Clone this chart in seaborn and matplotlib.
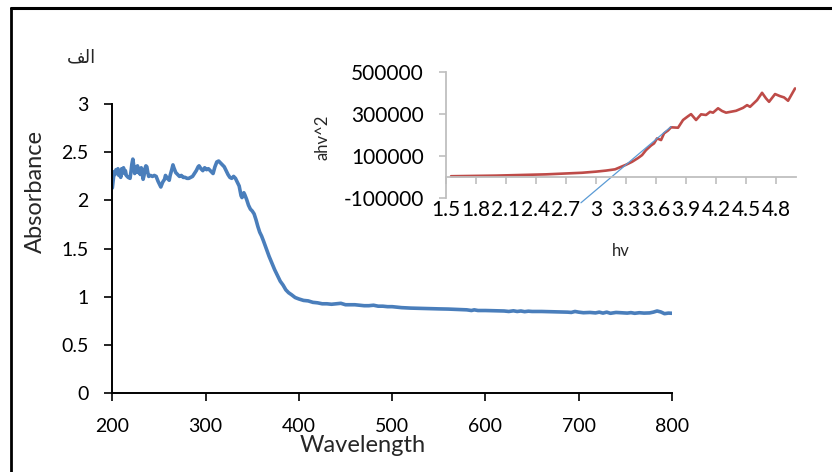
import numpy as np
import pandas as pd
import matplotlib.pyplot as plt
import seaborn as sns
from matplotlib.lines import Line2D

# UV-vis spectrum
wavelength = [200, 201, 202, 203, 204, 205, 206, 207, 208, 209, 210, 211, 212, 213, 214, 215, 217, 219,
              220, 221, 222, 223, 224, 225, 226, 227, 228, 229, 230, 231, 232, 233, 234, 235, 236, 237,
              238, 239, 241, 243, 245, 247, 249, 251, 252, 254, 256, 257, 259, 261, 262, 264, 265, 266,
              268, 270, 272, 274, 276, 278, 280, 282, 284, 286, 288, 290, 292, 293, 295, 297, 299, 301,
              303, 305, 307, 308, 310, 312, 314, 316, 318, 320, 322, 324, 326, 328, 330, 332, 334, 336,
              337, 338, 339, 341, 342, 344, 346, 348, 350, 352, 354, 356, 358, 360, 362, 365, 368, 371,
              374, 377, 380, 383, 386, 389, 392, 396, 400, 405, 410, 415, 420, 425, 430, 435, 440, 445,
              450, 455, 460, 465, 470, 475, 480, 485, 490, 495, 500, 505, 510, 520, 530, 540, 550, 560,
              570, 580, 585, 588, 592, 600, 610, 620, 625, 630, 634, 638, 642, 646, 650, 660, 670, 680,
              688, 692, 696, 700, 705, 712, 718, 722, 726, 730, 734, 740, 746, 752, 756, 760, 765, 770,
              776, 780, 784, 788, 792, 796, 801]
absorbance = [2.13, 2.22, 2.30, 2.27, 2.32, 2.29, 2.33, 2.26, 2.30, 2.24, 2.33, 2.30, 2.34, 2.28, 2.31, 2.26, 2.24, 2.23,
              2.30, 2.38, 2.43, 2.36, 2.28, 2.35, 2.30, 2.36, 2.29, 2.31, 2.27, 2.34, 2.30, 2.22, 2.26, 2.33, 2.36, 2.35,
              2.29, 2.25, 2.26, 2.25, 2.26, 2.25, 2.20, 2.16, 2.14, 2.19, 2.22, 2.26, 2.23, 2.21, 2.26, 2.33, 2.37, 2.34,
              2.29, 2.27, 2.25, 2.26, 2.24, 2.24, 2.23, 2.23, 2.24, 2.25, 2.28, 2.31, 2.35, 2.36, 2.33, 2.31, 2.34, 2.32,
              2.33, 2.31, 2.29, 2.28, 2.35, 2.40, 2.41, 2.39, 2.37, 2.35, 2.31, 2.27, 2.24, 2.23, 2.25, 2.23, 2.19, 2.15,
              2.10, 2.05, 2.03, 2.08, 2.06, 2.01, 1.95, 1.91, 1.89, 1.86, 1.80, 1.73, 1.67, 1.63, 1.58, 1.50, 1.42, 1.35,
              1.28, 1.22, 1.16, 1.12, 1.07, 1.04, 1.02, 0.99, 0.975, 0.96, 0.955, 0.94, 0.935, 0.925, 0.925, 0.92, 0.925, 0.93,
              0.915, 0.915, 0.915, 0.91, 0.905, 0.905, 0.91, 0.90, 0.90, 0.895, 0.895, 0.89, 0.885, 0.88, 0.877, 0.873, 0.872, 0.87,
              0.866, 0.862, 0.855, 0.862, 0.855, 0.855, 0.852, 0.85, 0.845, 0.852, 0.845, 0.85, 0.843, 0.848, 0.845, 0.845, 0.843, 0.84,
              0.838, 0.835, 0.845, 0.838, 0.832, 0.835, 0.83, 0.838, 0.828, 0.838, 0.826, 0.835, 0.832, 0.828, 0.833, 0.826, 0.832, 0.828,
              0.83, 0.838, 0.85, 0.84, 0.822, 0.828, 0.826]

# Tauc plot (inset)
hv = [1.55, 2.0, 2.5, 2.86, 3.0, 3.1, 3.19, 3.25, 3.3, 3.36, 3.42, 3.46, 3.5, 3.55, 3.58, 3.61, 3.65, 3.68,
      3.72, 3.75, 3.82, 3.87, 3.92, 3.95, 4.0, 4.05, 4.1, 4.14, 4.17, 4.22, 4.26, 4.3, 4.4, 4.47, 4.51, 4.54,
      4.61, 4.66, 4.7, 4.73, 4.79, 4.84, 4.88, 4.92, 4.99]
ahv2 = [3000, 6000, 12000, 19600, 25000, 30000, 36000, 48000, 58000, 72000, 90000, 104000, 128000, 150000,
        160000, 184000, 176000, 208000, 222000, 237000, 235000, 272000, 290000, 300000, 272000, 299000, 296000,
        311000, 307000, 328000, 315000, 307000, 316000, 330000, 343000, 335000, 367000, 402000, 375000, 359000,
        396000, 386000, 380000, 364000, 423000]
tangent_hv = [2.849, 3.75]
tangent_y = [-124000, 240000]

main_xticks = [200, 300, 400, 500, 600, 700, 800]
main_yticks = [0, 0.5, 1, 1.5, 2, 2.5, 3]
main_yticklabels = ['0', '0.5', '1', '1.5', '2', '2.5', '3']
inset_xticks = [1.5, 1.8, 2.1, 2.4, 2.7, 3.0, 3.3, 3.6, 3.9, 4.2, 4.5, 4.8]
inset_xticklabels = ['1.5', '1.8', '2.1', '2.4', '2.7', '3', '3.3', '3.6', '3.9', '4.2', '4.5', '4.8']
inset_yticks = [-100000, 100000, 300000, 500000]
inset_yticklabels = ['-100000', '100000', '300000', '500000']

sns.set_style('white')
plt.rcParams['font.family'] = ['Lato', 'DejaVu Sans']
plt.rcParams['axes.unicode_minus'] = False

d_main = pd.DataFrame({'wl': wavelength, 'abs': absorbance})
d_tauc = pd.DataFrame({'hv': hv, 'ahv2': ahv2})

fig = plt.figure(figsize=(8.32, 4.72), dpi=100)

# main spectrum
ax = fig.add_axes([0.1350, 0.168, 0.6727, 0.611])
sns.lineplot(data=d_main, x='wl', y='abs', ax=ax, color='#4A7EBB', linewidth=2.6,
             estimator=None)
ax.set_xlim(200, 800)
ax.set_ylim(0, 3)
ax.set_xticks(main_xticks)
ax.set_xticklabels([str(t) for t in main_xticks])
ax.set_yticks(main_yticks)
ax.set_yticklabels(main_yticklabels)
for side in ['top', 'right']:
    ax.spines[side].set_visible(False)
for side in ['left', 'bottom']:
    ax.spines[side].set_color('black')
    ax.spines[side].set_linewidth(1.4)
ax.tick_params(axis='both', direction='out', length=6, width=1.2, color='black',
               labelsize=14, labelcolor='black', bottom=True, left=True)
ax.tick_params(axis='x', pad=12)
ax.tick_params(axis='y', pad=11)
ax.set_xlabel('Wavelength', fontsize=17, labelpad=-2)
ax.xaxis.set_label_coords(0.448, -0.145)
ax.set_ylabel('Absorbance', fontsize=17)
ax.yaxis.set_label_coords(-0.118, 0.697)

# inset: Tauc plot
ax2 = fig.add_axes([0.5361, 0.581, 0.4207, 0.2658])
ax2.set_facecolor('none')
sns.lineplot(data=d_tauc, x='hv', y='ahv2', ax=ax2, color='#BE4B48', linewidth=1.9,
             estimator=None)
ax2.plot(tangent_hv, tangent_y, color='#5B9BD5', linewidth=0.9, clip_on=False)
ax2.set_xlim(1.5, 5.0)
ax2.set_ylim(-100000, 500000)
ax2.set_xticks(inset_xticks)
ax2.set_xticklabels(inset_xticklabels)
ax2.set_yticks(inset_yticks)
ax2.set_yticklabels(inset_yticklabels)
for side in ['top', 'right']:
    ax2.spines[side].set_visible(False)
ax2.spines['bottom'].set_position(('data', 0))
for side in ['left', 'bottom']:
    ax2.spines[side].set_color('#BFBFBF')
    ax2.spines[side].set_linewidth(1.3)
ax2.tick_params(axis='both', direction='out', length=5, width=1.2, color='#BFBFBF',
                labelsize=15, labelcolor='black', bottom=True, left=True)
ax2.tick_params(axis='x', pad=12)
ax2.tick_params(axis='y', pad=11)
ax2.set_xlabel('hv', fontsize=12)
ax2.xaxis.set_label_coords(0.5, -0.36)
ax2.set_ylabel('ahv^2', fontsize=12)
ax2.yaxis.set_label_coords(-0.33, 0.48)

# arabic label, written in visual order with presentation forms
fig.text(0.098, 0.879, '\uFED2\uFEDF\u0627', fontsize=13, family=['DejaVu Sans'],
         ha='center', va='center')

# chart frame (top and left edges only visible)
fig.add_artist(Line2D([0.013, 1.0], [0.982, 0.982], transform=fig.transFigure,
                      color='black', linewidth=2.2))
fig.add_artist(Line2D([0.013, 0.013], [0.0, 0.982], transform=fig.transFigure,
                      color='black', linewidth=2.0))

plt.savefig('out.png', dpi=100)
